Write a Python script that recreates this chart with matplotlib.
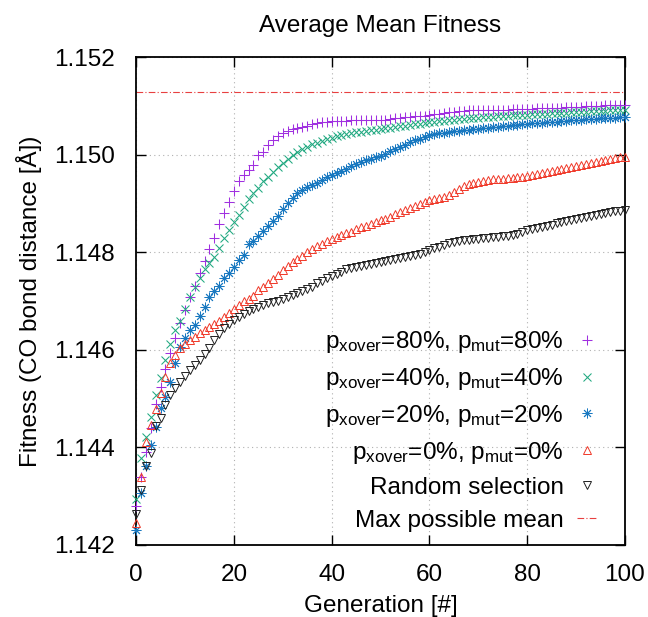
import matplotlib
matplotlib.use("Agg")
import matplotlib.pyplot as plt
import numpy as np

plt.rcParams['font.family'] = ['Liberation Sans', 'DejaVu Sans']
plt.rcParams['mathtext.default'] = 'regular'

generations = list(range(0, 101))

fit_80 = [1.14279, 1.14340, 1.14391, 1.14440, 1.14489, 1.14524, 1.14560, 1.14593, 1.14624, 1.14654,
          1.14682, 1.14709, 1.14731, 1.14757, 1.14783, 1.14806, 1.14830, 1.14858, 1.14881, 1.14902,
          1.14925, 1.14945, 1.14958, 1.14968, 1.14979, 1.14999, 1.15006, 1.15020, 1.15030, 1.15038,
          1.15045, 1.15049, 1.15052, 1.15054, 1.15057, 1.15059, 1.15062, 1.15064, 1.15066, 1.15067,
          1.15068, 1.15069, 1.15069, 1.15069, 1.15070, 1.15070, 1.15070, 1.15070, 1.15071, 1.15071,
          1.15071, 1.15071, 1.15072, 1.15074, 1.15076, 1.15077, 1.15078, 1.15079, 1.15079, 1.15080,
          1.15081, 1.15083, 1.15084, 1.15085, 1.15087, 1.15088, 1.15089, 1.15090, 1.15091, 1.15091,
          1.15091, 1.15091, 1.15092, 1.15092, 1.15092, 1.15092, 1.15092, 1.15093, 1.15093, 1.15093,
          1.15094, 1.15094, 1.15095, 1.15095, 1.15095, 1.15096, 1.15096, 1.15096, 1.15097, 1.15097,
          1.15098, 1.15098, 1.15099, 1.15099, 1.15100, 1.15100, 1.15101, 1.15101, 1.15102, 1.15102,
          1.15102]

fit_40 = [1.14294, 1.14378, 1.14422, 1.14462, 1.14507, 1.14543, 1.14579, 1.14612, 1.14641, 1.14660,
          1.14683, 1.14709, 1.14728, 1.14747, 1.14766, 1.14777, 1.14790, 1.14808, 1.14829, 1.14846,
          1.14861, 1.14876, 1.14893, 1.14909, 1.14921, 1.14932, 1.14945, 1.14955, 1.14965, 1.14975,
          1.14983, 1.14992, 1.14999, 1.15006, 1.15011, 1.15016, 1.15021, 1.15024, 1.15028, 1.15031,
          1.15035, 1.15038, 1.15041, 1.15043, 1.15044, 1.15046, 1.15047, 1.15048, 1.15050, 1.15051,
          1.15052, 1.15054, 1.15055, 1.15056, 1.15058, 1.15059, 1.15061, 1.15062, 1.15063, 1.15065,
          1.15066, 1.15067, 1.15068, 1.15069, 1.15070, 1.15071, 1.15072, 1.15073, 1.15074, 1.15075,
          1.15076, 1.15077, 1.15077, 1.15078, 1.15079, 1.15079, 1.15080, 1.15081, 1.15081, 1.15082,
          1.15082, 1.15083, 1.15083, 1.15084, 1.15084, 1.15085, 1.15085, 1.15086, 1.15086, 1.15087,
          1.15087, 1.15088, 1.15088, 1.15089, 1.15089, 1.15090, 1.15090, 1.15091, 1.15091, 1.15092,
          1.15092]

fit_20 = [1.14231, 1.14307, 1.14361, 1.14405, 1.14442, 1.14480, 1.14504, 1.14533, 1.14572, 1.14606,
          1.14625, 1.14641, 1.14651, 1.14670, 1.14687, 1.14709, 1.14720, 1.14731, 1.14747, 1.14758,
          1.14770, 1.14784, 1.14794, 1.14816, 1.14822, 1.14833, 1.14844, 1.14854, 1.14864, 1.14875,
          1.14888, 1.14900, 1.14912, 1.14921, 1.14927, 1.14933, 1.14938, 1.14942, 1.14948, 1.14954,
          1.14958, 1.14963, 1.14967, 1.14971, 1.14976, 1.14980, 1.14984, 1.14989, 1.14992, 1.14995,
          1.14998, 1.15002, 1.15007, 1.15011, 1.15016, 1.15020, 1.15025, 1.15029, 1.15033, 1.15037,
          1.15040, 1.15042, 1.15044, 1.15045, 1.15047, 1.15048, 1.15049, 1.15050, 1.15051, 1.15052,
          1.15053, 1.15054, 1.15055, 1.15056, 1.15057, 1.15058, 1.15059, 1.15060, 1.15061, 1.15062,
          1.15063, 1.15064, 1.15064, 1.15065, 1.15066, 1.15067, 1.15067, 1.15068, 1.15069, 1.15070,
          1.15070, 1.15071, 1.15072, 1.15073, 1.15073, 1.15074, 1.15075, 1.15076, 1.15076, 1.15077,
          1.15078]

fit_0 = [1.14246, 1.14340, 1.14412, 1.14445, 1.14479, 1.14512, 1.14545, 1.14572, 1.14589, 1.14603,
         1.14612, 1.14620, 1.14627, 1.14634, 1.14641, 1.14647, 1.14653, 1.14660, 1.14668, 1.14675,
         1.14683, 1.14692, 1.14699, 1.14705, 1.14711, 1.14723, 1.14729, 1.14737, 1.14745, 1.14753,
         1.14763, 1.14771, 1.14779, 1.14786, 1.14793, 1.14800, 1.14807, 1.14812, 1.14817, 1.14822,
         1.14827, 1.14831, 1.14835, 1.14839, 1.14842, 1.14847, 1.14851, 1.14854, 1.14857, 1.14861,
         1.14865, 1.14869, 1.14873, 1.14878, 1.14882, 1.14887, 1.14891, 1.14895, 1.14899, 1.14903,
         1.14906, 1.14909, 1.14911, 1.14914, 1.14918, 1.14923, 1.14930, 1.14936, 1.14940, 1.14942,
         1.14944, 1.14946, 1.14947, 1.14949, 1.14950, 1.14951, 1.14952, 1.14953, 1.14954, 1.14955,
         1.14956, 1.14958, 1.14960, 1.14962, 1.14964, 1.14966, 1.14968, 1.14970, 1.14972, 1.14975,
         1.14977, 1.14979, 1.14981, 1.14983, 1.14985, 1.14987, 1.14989, 1.14991, 1.14994, 1.14995,
         1.14995]

fit_random = [1.14263, 1.14312, 1.14361, 1.14389, 1.14443, 1.14460, 1.14487, 1.14507, 1.14522, 1.14535,
              1.14546, 1.14559, 1.14569, 1.14579, 1.14591, 1.14604, 1.14620, 1.14632, 1.14645, 1.14653,
              1.14661, 1.14668, 1.14674, 1.14680, 1.14684, 1.14688, 1.14692, 1.14695, 1.14698, 1.14701,
              1.14704, 1.14708, 1.14712, 1.14716, 1.14721, 1.14725, 1.14729, 1.14736, 1.14742, 1.14747,
              1.14752, 1.14756, 1.14760, 1.14765, 1.14768, 1.14770, 1.14772, 1.14774, 1.14776, 1.14778,
              1.14780, 1.14782, 1.14784, 1.14786, 1.14788, 1.14790, 1.14792, 1.14794, 1.14797, 1.14800,
              1.14804, 1.14808, 1.14811, 1.14815, 1.14819, 1.14821, 1.14823, 1.14824, 1.14826, 1.14827,
              1.14828, 1.14829, 1.14830, 1.14831, 1.14832, 1.14833, 1.14834, 1.14835, 1.14837, 1.14841,
              1.14845, 1.14847, 1.14850, 1.14852, 1.14854, 1.14856, 1.14859, 1.14862, 1.14864, 1.14866,
              1.14868, 1.14870, 1.14872, 1.14874, 1.14876, 1.14878, 1.14880, 1.14882, 1.14884, 1.14885,
              1.14886]

max_possible_mean = 1.15129

labels = [r'p$_{xover}$=80%, p$_{mut}$=80%',
          r'p$_{xover}$=40%, p$_{mut}$=40%',
          r'p$_{xover}$=20%, p$_{mut}$=20%',
          r'p$_{xover}$=0%, p$_{mut}$=0%',
          'Random selection',
          'Max possible mean']

xticks = [0, 20, 40, 60, 80, 100]
yticks = [1.142, 1.144, 1.146, 1.148, 1.150, 1.152]

fig = plt.figure(figsize=(6.48, 6.17), dpi=100)
ax = fig.add_axes([0.21, 0.1167, 0.7545, 0.7909])

series = [
    (fit_80, dict(marker='+', color='#a030e0', ms=7, mew=0.75, mfc='none')),
    (fit_40, dict(marker='x', color='#20a880', ms=6, mew=0.75, mfc='none')),
    (fit_20, dict(marker=(8, 2, 0), color='#1878c0', ms=7, mew=0.65, mfc='none')),
    (fit_0, dict(marker='^', color='#f03828', ms=6, mew=0.7, mfc='none')),
    (fit_random, dict(marker='v', color='#202020', ms=6, mew=0.7, mfc='none')),
]
for (vals, st), lab in zip(series, labels[:5]):
    ax.plot(generations, vals, linestyle='none', label=lab, clip_on=False, zorder=3, **st)

ax.plot([generations[0], generations[-1]], [max_possible_mean, max_possible_mean],
        color='#e84040', lw=0.8, linestyle=(0, (6, 2, 1, 2)), label=labels[5], zorder=2)

ax.set_xlim(0, 100)
ax.set_ylim(1.142, 1.152)
ax.set_xticks(xticks)
ax.set_yticks(yticks)
ax.set_yticklabels(['%.3f' % v for v in yticks])
ax.grid(True, color='#b0b0b0', linestyle=(0, (1, 3)), linewidth=0.8)
ax.set_axisbelow(True)
ax.tick_params(direction='in', length=7, width=1.0, top=True, right=True, labelsize=17.5)
ax.tick_params(axis='y', pad=15)
ax.tick_params(axis='x', pad=14)
for s in ax.spines.values():
    s.set_linewidth(1.3)

ax.set_title('Average Mean Fitness', fontsize=17.5, pad=18)
ax.set_xlabel('Generation [#]', fontsize=17.5, labelpad=6)
ax.set_ylabel('Fitness (CO bond distance [Å])', fontsize=17.5, labelpad=9)

leg = ax.legend(loc='lower right', markerfirst=False, frameon=False, fontsize=17.5,
                numpoints=1, handlelength=0.8, handletextpad=0.55, labelspacing=0.45,
                borderpad=0.0, borderaxespad=0.0, bbox_to_anchor=(0.942, 0.027))

fig.savefig('out.png', dpi=100)
